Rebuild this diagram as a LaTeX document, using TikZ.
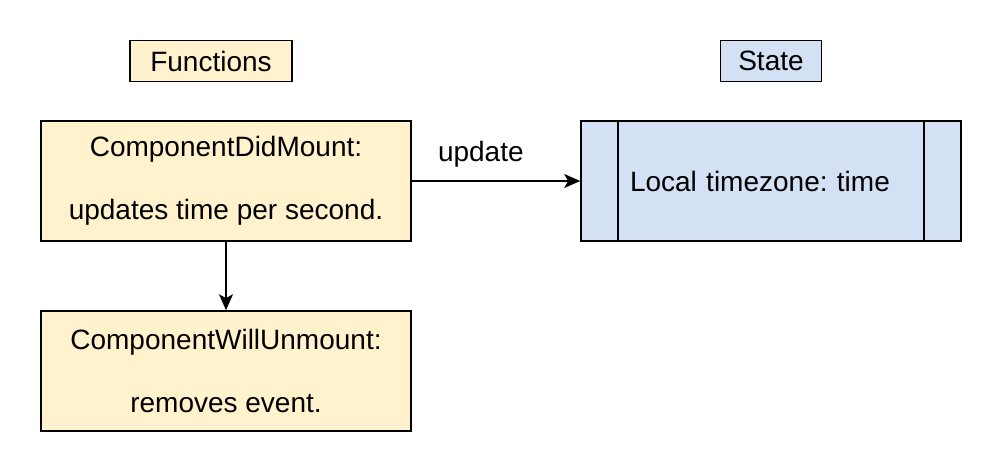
\documentclass[tikz,border=0pt]{standalone}
\usepackage{fontspec}
\setmainfont{Liberation Sans}
\usetikzlibrary{positioning,arrows.meta}
\definecolor{funcyellow}{HTML}{FFF2CC}
\definecolor{stateblue}{HTML}{D4E1F5}
\frenchspacing

\begin{document}
\begin{tikzpicture}[x=1pt,y=-1pt,
		box/.style={draw=black,line width=1.6pt,inner sep=0pt,align=center,
			font=\fontsize{28}{31.5}\selectfont},
		funcbox/.style={box,fill=funcyellow},
		statebox/.style={box,fill=stateblue},
		arr/.style={-{Stealth[length=16pt,width=14pt,inset=4pt]},line width=1.6pt}]
		
		\useasboundingbox (0,0) rectangle (1002,472);
		
		\node[funcbox,minimum width=162pt,minimum height=41pt] (functitle) at (211,61) {Functions};
		
		\node[statebox,minimum width=101pt,minimum height=41pt] (statetitle) at (771,61) {State};
		
		\node[funcbox,minimum width=370pt,minimum height=120pt] (didmount) at (226,181)
		{ComponentDidMount:\\[31.5pt]updates time per second.};
		
		\node[funcbox,minimum width=370pt,minimum height=120pt] (willunmount) at (226,371)
		{ComponentWillUnmount:\\[31.5pt]removes event.};
		
		\node[statebox,minimum width=380pt,minimum height=120pt,text width=282pt,align=left]
		(localtime) at (771,181) {Local timezone: time};
		
		\draw[line width=1.6pt] ([xshift=38pt]localtime.north west) -- ([xshift=38pt]localtime.south west);
		\draw[line width=1.6pt] ([xshift=-38pt]localtime.north east) -- ([xshift=-38pt]localtime.south east);
		
		\draw[arr] (didmount) -- (localtime)
		node[pos=0.41,above=10pt,font=\fontsize{28}{31.5}\selectfont] (updatelbl) {update};
		
		\draw[arr] (didmount) -- (willunmount);
		
	\end{tikzpicture}
\end{document}
